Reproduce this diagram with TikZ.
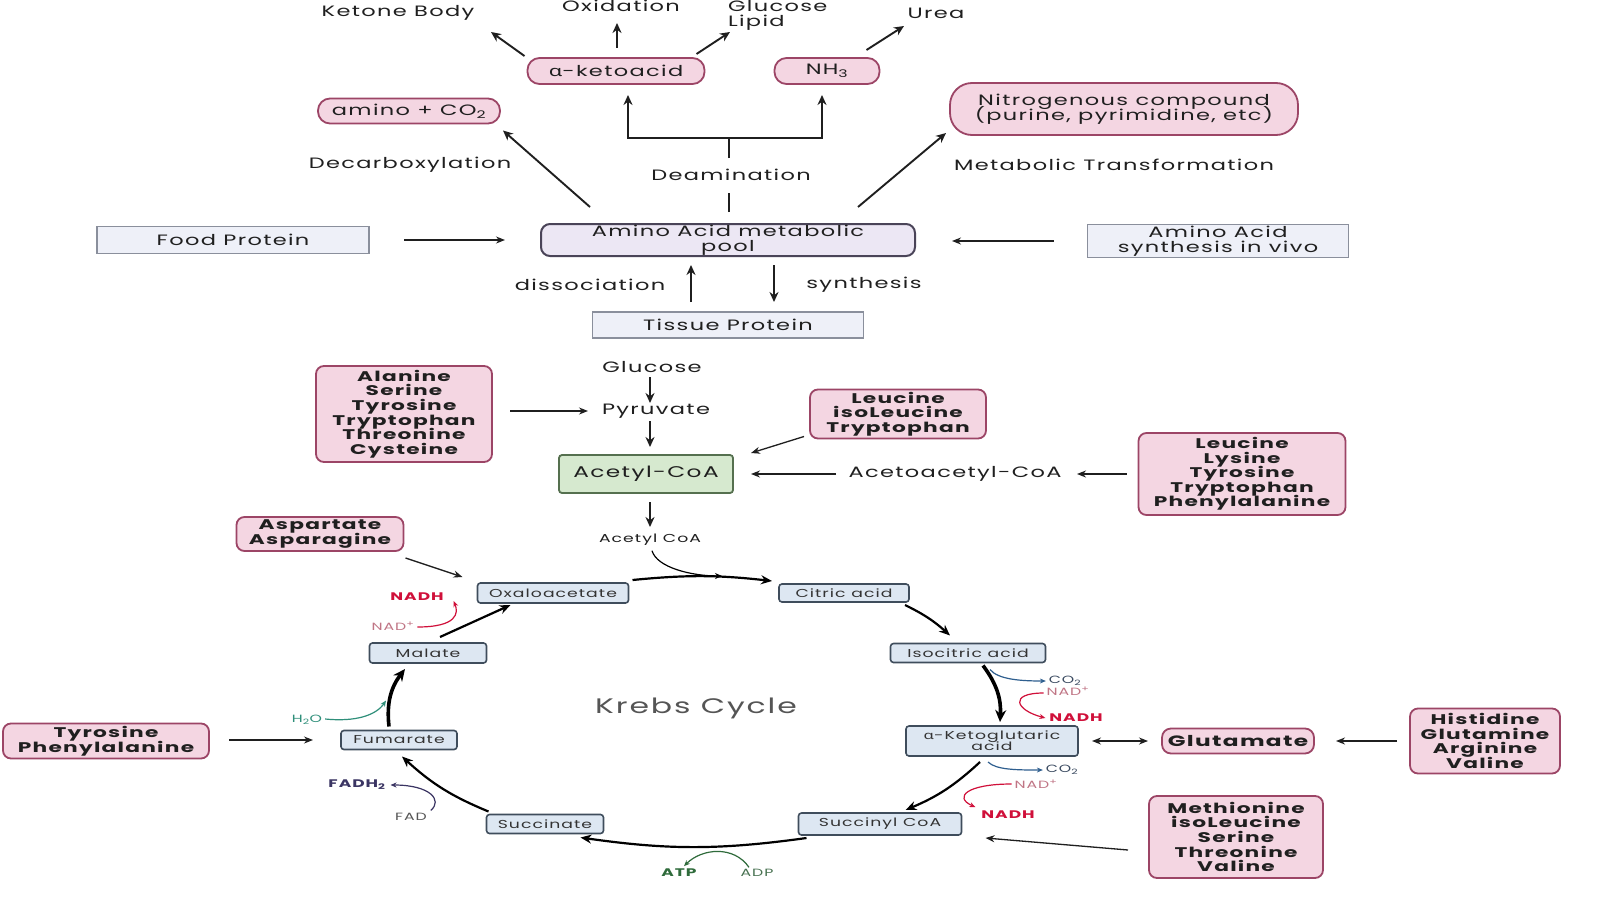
\documentclass[tikz,border=0pt]{standalone}
\usepackage{fontspec}
\setmainfont{Poppins}[FakeStretch=1.5,LetterSpace=9,BoldFeatures={FakeStretch=1.55,LetterSpace=9}]
\newfontfamily\grk{Noto Sans}[FakeStretch=1.45]
\usetikzlibrary{arrows.meta}
\definecolor{ink}{HTML}{1F1F1F}
\definecolor{pinkF}{HTML}{F4D6E2}
\definecolor{pinkD}{HTML}{9C4566}
\definecolor{poolF}{HTML}{ECE7F4}
\definecolor{poolD}{HTML}{4A4458}
\definecolor{boxF}{HTML}{EEF0F8}
\definecolor{boxD}{HTML}{8A8F9C}
\definecolor{grnF}{HTML}{D6E9CF}
\definecolor{grnD}{HTML}{55704F}
\definecolor{kF}{HTML}{DDE7F2}
\definecolor{kD}{HTML}{3F4D5C}
\definecolor{kT}{HTML}{333333}
\definecolor{kgray}{HTML}{555555}
\definecolor{redc}{HTML}{D0103A}
\definecolor{nadc}{HTML}{C07585}
\definecolor{bluec}{HTML}{2F5F8F}
\definecolor{co2c}{HTML}{3A4A60}
\definecolor{grnc}{HTML}{2F6B3B}
\definecolor{tealc}{HTML}{2F8F7A}
\definecolor{purc}{HTML}{3B3563}
\newcommand\fsz[2]{\fontsize{#1}{#2}\selectfont\lineskiplimit=-100pt\lineskip=0pt\relax}
\begin{document}
\begin{tikzpicture}[x=1pt,y=-1pt,
  every node/.style={inner sep=0pt, outer sep=0pt, align=center, text=ink},
  lab/.style={font=\fsz{15}{15}},
  pinkbox/.style={draw=pinkD, fill=pinkF, line width=1.8pt, rounded corners=8pt, font=\bfseries\fsz{14}{14.6}},
  pinkpill/.style={draw=pinkD, fill=pinkF, line width=1.8pt, rounded corners=12pt, font=\fsz{15}{15.5}},
  plainbox/.style={draw=boxD, fill=boxF, line width=1.6pt, font=\fsz{15}{14.8}},
  poolbox/.style={draw=poolD, fill=poolF, line width=2pt, rounded corners=9pt, font=\fsz{15}{15}},
  greenbox/.style={draw=grnD, fill=grnF, line width=1.8pt, rounded corners=3pt, font=\fsz{15.5}{16}},
  kbox/.style={draw=kD, fill=kF, line width=1.6pt, rounded corners=3pt, font=\fsz{11.5}{11}, text=kT},
  tiny/.style={font=\fsz{10.5}{10}},
  tinyb/.style={font=\bfseries\fsz{11}{10}},
  arr/.style={draw=ink, line width=1.9pt, -{Stealth[length=10pt,width=9pt]}},
  ln/.style={draw=ink, line width=1.9pt},
  tarr/.style={draw=ink, line width=1.3pt, -{Stealth[length=9pt,width=7pt]}},
  karr/.style={draw=black, line width=2.2pt, -{Stealth[length=11pt,width=9pt]}},
  kthick/.style={draw=black, line width=3.6pt, -{Stealth[length=12pt,width=11pt]}},
  sarr/.style={line width=1.2pt, -{Stealth[length=6pt,width=5pt]}}
]
\fill[white] (0,0) rectangle (1600,899);
\useasboundingbox (0,0) rectangle (1600,899);

% ---------- top part ----------
\node[lab] (ketone) at (398,13) {Ketone Body};
\node[lab] (oxid) at (621,6) {Oxidation};
\node[lab, anchor=west, align=left] (gluc) at (728,15) {Glucose\\Lipid};
\node[lab] (urea) at (936,13) {Urea};
\node[pinkpill, minimum width=177, minimum height=26] (aketo) at (616,71) {{\grk α}-ketoacid};
\node[pinkpill, minimum width=105, minimum height=26] (nh3) at (827,71) {NH\textsubscript{3}};
\node[pinkpill, minimum width=182, minimum height=25] (amco) at (409,111) {amino + CO\textsubscript{2}};
\node[pinkpill, minimum width=348, minimum height=52, rounded corners=22pt] (nitro) at (1124,109) {Nitrogenous compound\\(purine, pyrimidine, etc)};
\node[lab] (decarb) at (410,165) {Decarboxylation};
\node[lab] (deam) at (731,175) {Deamination};
\node[lab] (metab) at (1114,165) {Metabolic Transformation};
\node[plainbox, minimum width=272, minimum height=27] (food) at (233,240) {Food Protein};
\node[poolbox, minimum width=374, minimum height=32] (pool) at (728,240) {Amino Acid metabolic\\pool};
\node[plainbox, minimum width=261, minimum height=33] (aasyn) at (1218,241) {Amino Acid\\synthesis in vivo};
\node[lab] (dissoc) at (590,285) {dissociation};
\node[lab] (synth) at (864,285) {synthesis};
\node[plainbox, minimum width=271, minimum height=26] (tissue) at (728,325) {Tissue Protein};

\draw[arr] ([shift={(-3,-15)}]aketo.west) -- ([shift={(93,19)}]ketone.center);
\draw[arr] ([shift={(1,-10)}]aketo.north) -- ([shift={(-4,17)}]oxid.center);
\draw[arr] ([shift={(-8,-4)}]aketo.north east) -- ([shift={(2,17)}]gluc.west);
\draw[arr] ([shift={(-13,-8)}]nh3.north east) -- ([shift={(-32,13)}]urea.center);
\coordinate (jn) at (729,138);
\draw[ln] ([shift={(1,-12)}]pool.north) -- ([shift={(-2,12)}]deam.south);
\draw[ln] ([shift={(-2,-11)}]deam.north) -- (jn);
\draw[arr] (jn) -| ([shift={(12,11)}]aketo.south);
\draw[arr] (jn) -| ([shift={(-5,11)}]nh3.south);
\draw[arr] ([shift={(49,-17)}]pool.north west) -- ([shift={(3,7)}]amco.south east);
\draw[arr] ([shift={(-57,-17)}]pool.north east) -- ([shift={(-4,-2)}]nitro.south west);
\draw[tarr] ([shift={(35,0)}]food.east) -- ([shift={(-36,0)}]pool.west);
\draw[tarr] ([shift={(-34,0)}]aasyn.west) -- ([shift={(37,1)}]pool.east);
\draw[arr] ([shift={(-37,-10)}]tissue.north) -- ([shift={(-37,9)}]pool.south);
\draw[arr] ([shift={(46,9)}]pool.south) -- ([shift={(46,-10)}]tissue.north);

% ---------- middle part ----------
\node[lab] (glc) at (652,367) {Glucose};
\node[lab] (pyr) at (656,411) {Pyruvate};
\node[greenbox, minimum width=174, minimum height=38] (acoa) at (646,474) {Acetyl-CoA};
\node[pinkbox, minimum width=176, minimum height=96] (ala) at (404,414) {Alanine\\Serine\\Tyrosine\\Tryptophan\\Threonine\\Cysteine};
\node[pinkbox, minimum width=176, minimum height=49] (leu3) at (898,414) {Leucine\\isoLeucine\\Tryptophan};
\node[lab] (aceto) at (955,474) {Acetoacetyl-CoA};
\node[pinkbox, minimum width=207, minimum height=82] (leu5) at (1242,474) {Leucine\\Lysine\\Tyrosine\\Tryptophan\\Phenylalanine};
\node[font=\fsz{11.5}{11}] (acs) at (650,540) {Acetyl CoA};

\draw[arr] ([shift={(-2,10)}]glc.center) -- ([shift={(-6,-8)}]pyr.center);
\draw[arr] ([shift={(-6,10)}]pyr.center) -- ([shift={(4,-8)}]acoa.north);
\draw[tarr] ([shift={(18,-3)}]ala.east) -- ([shift={(-68,0)}]pyr.center);
\draw[tarr] ([shift={(-6,-2)}]leu3.south west) -- ([shift={(18,-2)}]acoa.north east);
\draw[tarr] ([shift={(-119,0)}]aceto.center) -- ([shift={(18,0)}]acoa.east);
\draw[tarr] ([shift={(-12,0)}]leu5.west) -- ([shift={(122,0)}]aceto.center);
\draw[arr] ([shift={(4,9)}]acoa.south) -- ([shift={(0,-13)}]acs.center);

% ---------- Krebs cycle ----------
\node[pinkbox, minimum width=167, minimum height=34] (asp) at (320,534) {Aspartate\\Asparagine};
\node[kbox, minimum width=151, minimum height=20] (oxa) at (553,593) {Oxaloacetate};
\node[kbox, minimum width=130, minimum height=18] (cit) at (844,593) {Citric acid};
\node[kbox, minimum width=155, minimum height=19] (iso) at (968,653) {Isocitric acid};
\node[kbox, minimum width=172, minimum height=30] (akg) at (992,741) {{\grk α}-Ketoglutaric\\acid};
\node[kbox, minimum width=163, minimum height=22] (sca) at (880,824) {Succinyl CoA};
\node[kbox, minimum width=117, minimum height=19] (sucn) at (545,824) {Succinate};
\node[kbox, minimum width=116, minimum height=19] (fum) at (399,740) {Fumarate};
\node[kbox, minimum width=117, minimum height=20] (mal) at (428,653) {Malate};
\node[font=\fsz{21}{21}, text=kgray] (kc) at (696,708) {Krebs Cycle};
\node[pinkbox, minimum width=206, minimum height=35] (tp) at (106,741) {Tyrosine\\Phenylalanine};
\node[pinkpill, font=\bfseries\fsz{15}{15}, minimum width=152, minimum height=25, rounded corners=9pt] (glu) at (1238,741) {Glutamate};
\node[pinkbox, minimum width=150, minimum height=65] (his) at (1485,741) {Histidine\\Glutamine\\Arginine\\Valine};
\node[pinkbox, minimum width=174, minimum height=82] (met) at (1236,837) {Methionine\\isoLeucine\\Serine\\Threonine\\Valine};

\node[tinyb, text=redc] (nadh1) at (417,597) {NADH};
\node[tiny, text=nadc] (nad1) at (393,626) {NAD\textsuperscript{+}};
\node[tiny, text=tealc] (h2o) at (307,720) {H\textsubscript{2}O};
\node[tinyb, text=purc] (fadh) at (357,785) {FADH\textsubscript{2}};
\node[tiny, text=kgray] (fad) at (411,817) {FAD};
\node[tinyb, text=grnc] (atp) at (679,873) {ATP};
\node[tiny, text=grnc!70!gray] (adp) at (757,873) {ADP};
\node[tiny, text=co2c] (co2a) at (1065,681) {CO\textsubscript{2}};
\node[tiny, text=nadc] (nad2) at (1068,691) {NAD\textsuperscript{+}};
\node[tinyb, text=redc] (nadh2) at (1076,718) {NADH};
\node[tiny, text=co2c] (co2b) at (1062,770) {CO\textsubscript{2}};
\node[tiny, text=nadc] (nad3) at (1036,784) {NAD\textsuperscript{+}};
\node[tinyb, text=redc] (nadh3) at (1008,815) {NADH};

\draw[karr] ([shift={(4,-3)}]oxa.north east) to[bend left=6] ([shift={(-7,-3)}]cit.north west);
\coordinate (jp) at (722,576);
\draw[draw=black, line width=1.2pt, -{Stealth[length=7pt,width=6pt]}] ([shift={(2,5)}]acs.south) .. controls +(5,17) and +(-30,0) .. (jp);
\draw[karr] ([shift={(-4,3)}]cit.south east) to[bend left=8] ([shift={(-18,-8)}]iso.north);
\draw[kthick] ([shift={(15,3)}]iso.south) to[bend left=20] ([shift={(8,-4)}]akg.north);
\draw[karr] ([shift={(-12,6)}]akg.south) to[bend left=10] ([shift={(-56,-3)}]sca.north east);
\draw[karr] ([shift={(8,3)}]sca.south west) to[bend left=8] ([shift={(-23,4)}]sucn.south east);
\draw[karr] ([shift={(2,-3)}]sucn.north west) to[bend left=10] ([shift={(3,7)}]fum.south);
\draw[kthick] ([shift={(-10,-4)}]fum.north) to[bend left=22] ([shift={(-23,6)}]mal.south);
\draw[karr] ([shift={(12,-6)}]mal.north) -- ([shift={(33,2)}]oxa.south west);

\draw[sarr, draw=redc] ([shift={(3,1)}]nad1.east) .. controls +(40,0) and +(5,12) .. ([shift={(10,4)}]nadh1.east);
\draw[sarr, draw=tealc] ([shift={(3,-1)}]h2o.east) .. controls +(30,3) and +(-10,15) .. ([shift={(-13,-30)}]fum.north);
\draw[sarr, draw=purc] ([shift={(4,-3)}]fad.north east) .. controls +(12,-10) and +(40,0) .. ([shift={(5,0)}]fadh.east);
\draw[sarr, draw=grnc] ([shift={(-8,-2)}]adp.north) .. controls +(-15,-22) and +(18,-18) .. ([shift={(5,-3)}]atp.north);
\draw[sarr, draw=bluec] ([shift={(22,7)}]iso.south) .. controls +(8,10) and +(-25,0) .. ([shift={(-3,0)}]co2a.west);
\draw[sarr, draw=redc] ([shift={(-3,2)}]nad2.west) .. controls +(-35,0) and +(-30,-8) .. ([shift={(-4,0)}]nadh2.west);
\draw[sarr, draw=bluec] ([shift={(-4,6)}]akg.south) .. controls +(8,8) and +(-25,0) .. ([shift={(-3,0)}]co2b.west);
\draw[sarr, draw=redc] ([shift={(-3,0)}]nad3.west) .. controls +(-45,0) and +(-22,-10) .. ([shift={(-6,-4)}]nadh3.north west);

\draw[tarr] ([shift={(2,7)}]asp.south east) -- ([shift={(-15,-6)}]oxa.north west);
\draw[tarr] ([shift={(20,-1)}]tp.east) -- ([shift={(-28,0)}]fum.west);
\draw[tarr, {Stealth[length=9pt,width=7pt]}-{Stealth[length=9pt,width=7pt]}] ([shift={(14,0)}]akg.east) -- ([shift={(-14,0)}]glu.west);
\draw[tarr] ([shift={(-13,0)}]his.west) -- ([shift={(22,0)}]glu.east);
\draw[tarr] ([shift={(-21,13)}]met.west) -- ([shift={(24,14)}]sca.east);
\end{tikzpicture}
\end{document}
